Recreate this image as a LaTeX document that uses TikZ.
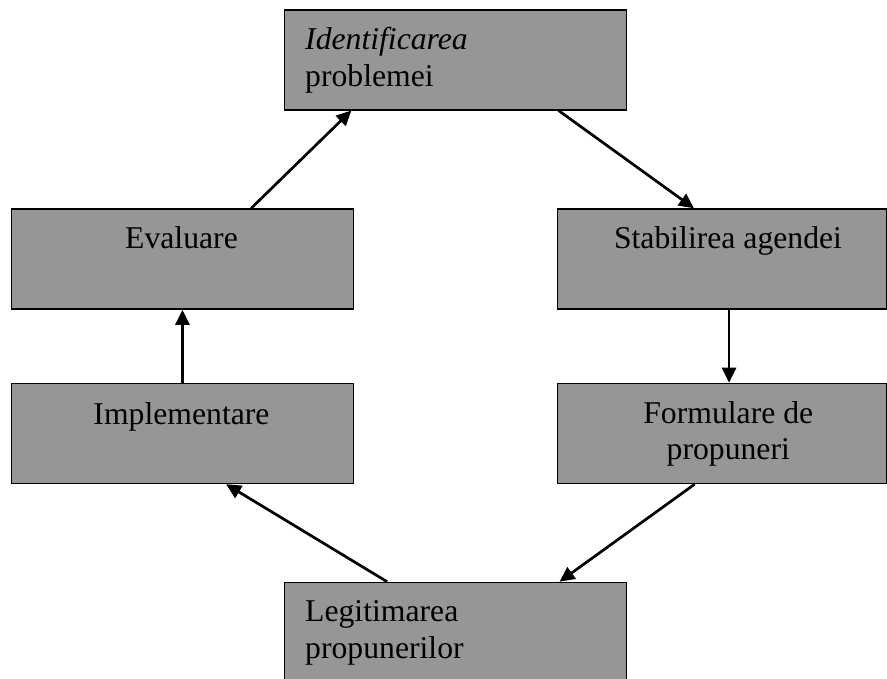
\documentclass[tikz,border=0pt]{standalone}
\usepackage{fontspec}
\setmainfont{Liberation Serif}
\usetikzlibrary{arrows.meta,calc}
\definecolor{boxgray}{RGB}{150,150,150}
\tikzset{
  box/.style={draw=black, line width=1.5pt, fill=boxgray, rectangle, inner sep=0pt, anchor=north west},
  txt/.style={inner sep=0pt, font=\fontsize{31.7}{36.5}\selectfont, text=black},
  flow/.style={line width=2.7pt, -{Triangle[length=15pt,width=14pt]}}
}
\begin{document}
\begin{tikzpicture}[x=1pt,y=-1pt]
\useasboundingbox (0,0) rectangle (887,678);
\clip (0,0) rectangle (887,678);
% boxes
\node[box, minimum width=342pt, minimum height=99.7pt] (id) at (283.7,9.3) {};
\node[box, minimum width=342pt, minimum height=100pt] (ev) at (10.7,208.3) {};
\node[box, minimum width=329.3pt, minimum height=100pt] (st) at (556.7,208.3) {};
\node[box, minimum width=342pt, minimum height=100pt] (im) at (10.7,382.7) {};
\node[box, minimum width=329.3pt, minimum height=100pt] (fo) at (556.7,382.7) {};
\node[box, minimum width=342pt, minimum height=120pt] (le) at (283.7,581.7) {};
% texts
\node[txt, anchor=base west] (id1) at (305,49) {\itshape Identificarea};
\node[txt, anchor=base west] (id2) at (305,86) {problemei};
\node[txt, anchor=base] (evt) at (181.5,248) {Evaluare};
\node[txt, anchor=base] (stt) at (728,248) {Stabilirea agendei};
\node[txt, anchor=base] (imt) at (181.5,424) {Implementare};
\node[txt, anchor=base] (fo1) at (728.3,423.3) {Formulare de};
\node[txt, anchor=base] (fo2) at (728.3,459.3) {propuneri};
\node[txt, anchor=base west] (le1) at (305,621.7) {Legitimarea};
\node[txt, anchor=base west] (le2) at (305,658) {propunerilor};
% connectors
\draw[flow] ($(ev.north west)!0.7!(ev.north east)$) -- ($(id.south west)!0.197!(id.south east)$);
\draw[flow] ($(id.south west)!0.8!(id.south east)$) -- ($(st.north west)!0.415!(st.north east)$);
\draw[flow] ($(st.south west)!0.521!(st.south east)$) -- ($(fo.north west)!0.521!(fo.north east)$);
\draw[flow] ($(fo.south west)!0.417!(fo.south east)$) -- ($(le.north west)!0.803!(le.north east)$);
\draw[flow] ($(le.north west)!0.301!(le.north east)$) -- ($(im.south west)!0.627!(im.south east)$);
\draw[flow] ($(im.north west)!0.5!(im.north east)$) -- ($(ev.south west)!0.5!(ev.south east)$);
\end{tikzpicture}
\end{document}
